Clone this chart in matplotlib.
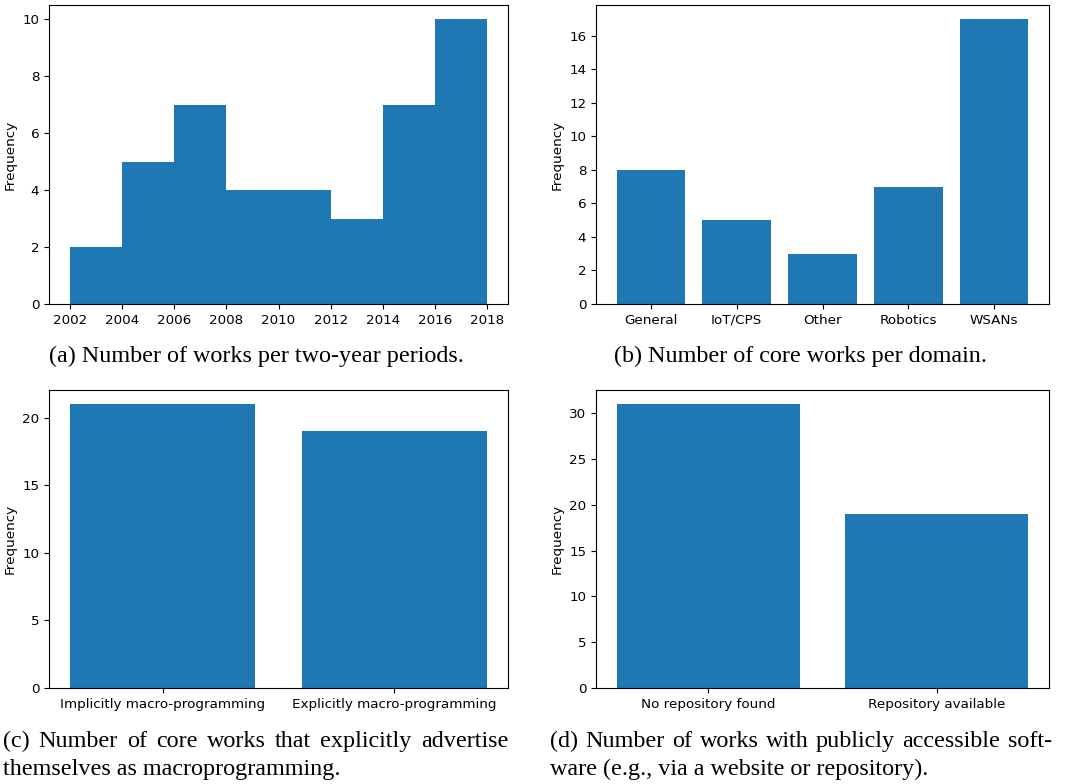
import matplotlib
matplotlib.use("Agg")
import matplotlib.pyplot as plt
from matplotlib.ticker import MaxNLocator
import numpy as np

# ---- data ----
year_edges = [2002, 2004, 2006, 2008, 2010, 2012, 2014, 2016, 2018]
year_counts = [2, 5, 7, 4, 4, 3, 7, 10]

domains = ["General", "IoT/CPS", "Other", "Robotics", "WSANs"]
domain_counts = [8, 5, 3, 7, 17]

macro_labels = ["Implicitly macro-programming", "Explicitly macro-programming"]
macro_counts = [21, 19]

repo_labels = ["No repository found", "Repository available"]
repo_counts = [31, 19]

cap_a = "(a) Number of works per two-year periods."
cap_b = "(b) Number of core works per domain."
cap_c = ["(c) Number of core works that explicitly advertise",
         "themselves as macroprogramming."]
cap_d = ["(d) Number of works with publicly accessible soft-",
         "ware (e.g., via a website or repository)."]

W, H = 1069, 784
fig = plt.figure(figsize=(W / 100, H / 100), dpi=100)

FS = 9.7
plt.rcParams["font.family"] = "DejaVu Sans"
plt.rcParams["axes.linewidth"] = 0.8
plt.rcParams["xtick.major.width"] = 0.8
plt.rcParams["ytick.major.width"] = 0.8
plt.rcParams["xtick.major.size"] = 3.4
plt.rcParams["ytick.major.size"] = 3.4

def axes_px(left, top, right, bottom):
    return fig.add_axes([left / W, 1 - bottom / H, (right - left) / W, (bottom - top) / H])

color = "#1f77b4"

def style(ax):
    ax.set_ylabel("Frequency", fontsize=FS)
    ax.tick_params(labelsize=FS)
    ax.yaxis.set_major_locator(MaxNLocator(integer=True, steps=[1, 2, 5, 10]))

# (a) histogram
ax = axes_px(49, 5, 508, 304)
ax.hist(year_edges[:-1], bins=year_edges, weights=year_counts, color=color)
ax.set_xticks(year_edges)
style(ax)

# (b)
ax = axes_px(596, 5, 1049, 304)
ax.bar(domains, domain_counts, color=color)
style(ax)

# (c)
ax = axes_px(49, 390, 508, 688)
ax.bar(macro_labels, macro_counts, color=color)
style(ax)

# (d)
ax = axes_px(596, 390, 1049, 688)
ax.bar(repo_labels, repo_counts, color=color)
style(ax)

# captions
CFS = 17.4
cap_font = "Liberation Serif"
renderer = fig.canvas.get_renderer()

def justify(line, x0, x1, y):
    words = line.split(" ")
    texts = [fig.text(0, 1 - y / H, w, ha="left", va="baseline", fontsize=CFS, family=cap_font) for w in words]
    widths = [t.get_window_extent(renderer).width for t in texts]
    gap = (x1 - x0 - sum(widths)) / (len(words) - 1)
    x = x0
    for t, w in zip(texts, widths):
        t.set_x(x / W)
        x += w + gap

def plain(line, x0, y, ha="left"):
    fig.text(x0 / W, 1 - y / H, line, ha=ha, va="baseline", fontsize=CFS, family=cap_font)

plain(cap_a, 256, 362, ha="center")
plain(cap_b, 800, 362, ha="center")
justify(cap_c[0], 3, 508, 747)
plain(cap_c[1], 3, 775)
justify(cap_d[0], 550, 1052, 747)
plain(cap_d[1], 550, 775)

fig.savefig("out.png", dpi=100)
